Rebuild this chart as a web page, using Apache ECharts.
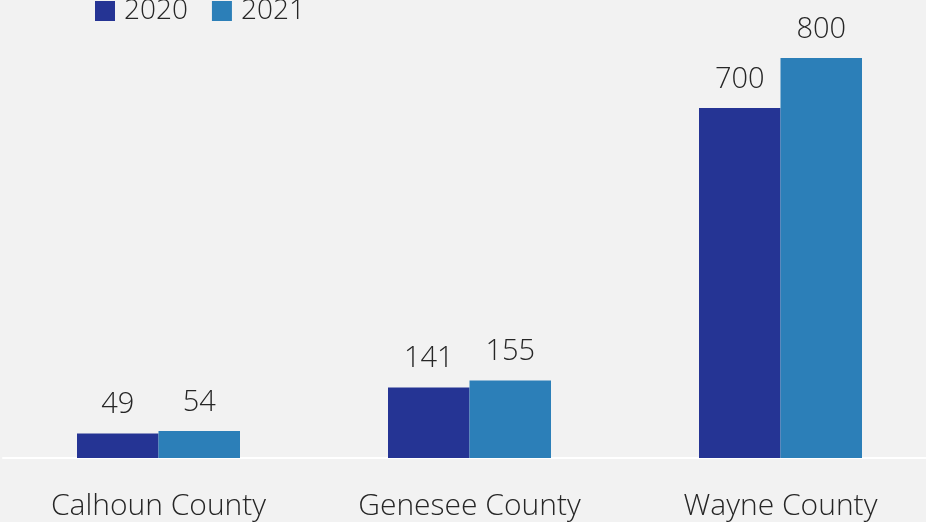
<!DOCTYPE html>
<html>
<head>
<meta charset="utf-8">
<script src="https://cdn.jsdelivr.net/npm/echarts@6/dist/echarts.min.js"></script>
<style>
  html, body { margin: 0; padding: 0; background: #f2f2f2; }
  #chart { width: 926px; height: 522px; }
</style>
</head>
<body>
<div id="chart"></div>
<script>
const counties = ["Calhoun County", "Genesee County", "Wayne County"];
const years = ["2020", "2021"];
const values2020 = [49, 141, 700];
const values2021 = [54, 155, 800];

const FONT = "'Open Sans', 'Noto Sans', sans-serif";
const TEXT = "#262626";

const chart = echarts.init(document.getElementById("chart"));
chart.setOption({
  backgroundColor: "#f2f2f2",
  animation: false,
  textStyle: { fontFamily: FONT },
  legend: {
    data: years,
    left: 90,
    top: -8,
    itemWidth: 20,
    itemHeight: 20,
    itemGap: 24,
    icon: "rect",
    textStyle: { fontSize: 28, color: TEXT, fontWeight: 300, fontFamily: FONT, padding: [0, 0, 0, 4] },
  },
  grid: { left: 3, right: -10, top: 8, bottom: 64, containLabel: false, outerBoundsMode: "none" },
  xAxis: {
    type: "category",
    data: counties,
    axisLine: { show: true, lineStyle: { color: "#ffffff", width: 2 } },
    axisTick: { show: false },
    axisLabel: { fontSize: 30, color: TEXT, fontWeight: 300, margin: 33, fontFamily: FONT },
  },
  yAxis: {
    type: "value",
    min: 0,
    max: 900,
    show: false,
  },
  series: [
    {
      name: years[0],
      type: "bar",
      data: values2020,
      barWidth: 81.5,
      barGap: "0%",
      itemStyle: { color: "#253494" },
      label: { show: true, position: "top", distance: 14, fontSize: 29, color: TEXT, fontWeight: 300, fontFamily: FONT },
    },
    {
      name: years[1],
      type: "bar",
      data: values2021,
      barWidth: 81.5,
      barGap: "0%",
      itemStyle: { color: "#2c7fb8" },
      label: { show: true, position: "top", distance: 14, fontSize: 29, color: TEXT, fontWeight: 300, fontFamily: FONT },
    },
  ],
});
</script>
</body>
</html>
